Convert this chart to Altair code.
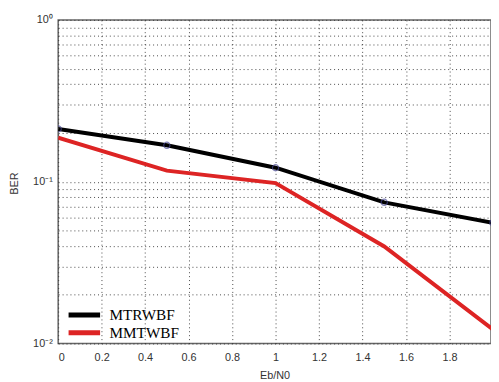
import altair as alt
import pandas as pd

ebn0 = [0.0, 0.5, 1.0, 1.5, 2.0]
ber_mtrwbf = [0.212, 0.168, 0.122, 0.0746, 0.0556]
ber_mmtwbf = [0.187, 0.117, 0.098, 0.0398, 0.0122]
series_names = ["MTRWBF", "MMTWBF"]
series_colors = ["#000000", "#dd2424"]
x_ticks = [0, 0.2, 0.4, 0.6, 0.8, 1.0, 1.2, 1.4, 1.6, 1.8]
y_ticks = [0.01, 0.02, 0.03, 0.04, 0.05, 0.06, 0.07, 0.08, 0.09,
           0.1, 0.2, 0.3, 0.4, 0.5, 0.6, 0.7, 0.8, 0.9, 1.0]

rows = []
for x, a, b in zip(ebn0, ber_mtrwbf, ber_mmtwbf):
    rows.append({"x": x, "ber": a, "series": series_names[0]})
    rows.append({"x": x, "ber": b, "series": series_names[1]})
df = pd.DataFrame(rows)

xs = alt.Scale(domain=[0, 1.991], nice=False, zero=False)
ys = alt.Scale(type="log", domain=[0.01, 1], nice=False)

xenc = alt.X("x:Q", scale=xs, axis=alt.Axis(
    values=x_ticks, format="~g", title="Eb/N0", grid=True, tickSize=0, labelPadding=8,
    labelFontSize=11, labelColor="#333", labelFont="Liberation Sans",
    titleFont="Liberation Sans", titleFontSize=11, titleFontWeight="normal",
    titleColor="#333", titlePadding=8, domain=False))
yenc = alt.Y("ber:Q", scale=ys, axis=alt.Axis(
    values=y_ticks, title="BER", grid=True, tickSize=0, labelPadding=6,
    labelExpr="datum.value == 1 ? '10⁰' : (datum.value == 0.1 ? '10⁻¹' : (datum.value == 0.01 ? '10⁻²' : ''))",
    labelFontSize=11, labelColor="#333", labelFont="Liberation Sans",
    titleFont="Liberation Sans", titleFontSize=11, titleFontWeight="normal",
    titleColor="#333", titleX=-44, titleY=166, titleAngle=-90,
    titleAlign="center", titleBaseline="middle", domain=False))

color = alt.Color("series:N", scale=alt.Scale(domain=series_names, range=series_colors),
                  sort=series_names,
                  legend=alt.Legend(title=None, orient="none", legendX=18.6, legendY=292,
                                    symbolType="M-3,0H3", symbolStrokeWidth=5,
                                    symbolSize=114, labelFont="Liberation Serif",
                                    labelFontSize=15.5, labelColor="#000",
                                    rowPadding=-2, labelOffset=17.6))

lines = alt.Chart(df).mark_line(strokeWidth=4, clip=True).encode(
    x=xenc, y=yenc, color=color, order=alt.Order("x:Q"))

pts = alt.Chart(df[df["series"] == series_names[0]]).mark_point(
    shape="circle", size=40, filled=False, color="#4a4a95", strokeWidth=1.2, clip=True
).encode(x=alt.X("x:Q", scale=xs), y=alt.Y("ber:Q", scale=ys))

chart = alt.layer(lines, pts).properties(
    width=440, height=329,
    autosize=alt.AutoSizeParams(type="none"),
    padding={"left": 51, "top": 9, "right": 0, "bottom": 36},
).configure_axis(
    gridColor="#333", gridDash=[1, 3], gridOpacity=0.9, gridWidth=1
).configure_view(stroke="#666", strokeWidth=1.5)

chart.save("out.html", embed_options={"renderer": "svg", "actions": False})
